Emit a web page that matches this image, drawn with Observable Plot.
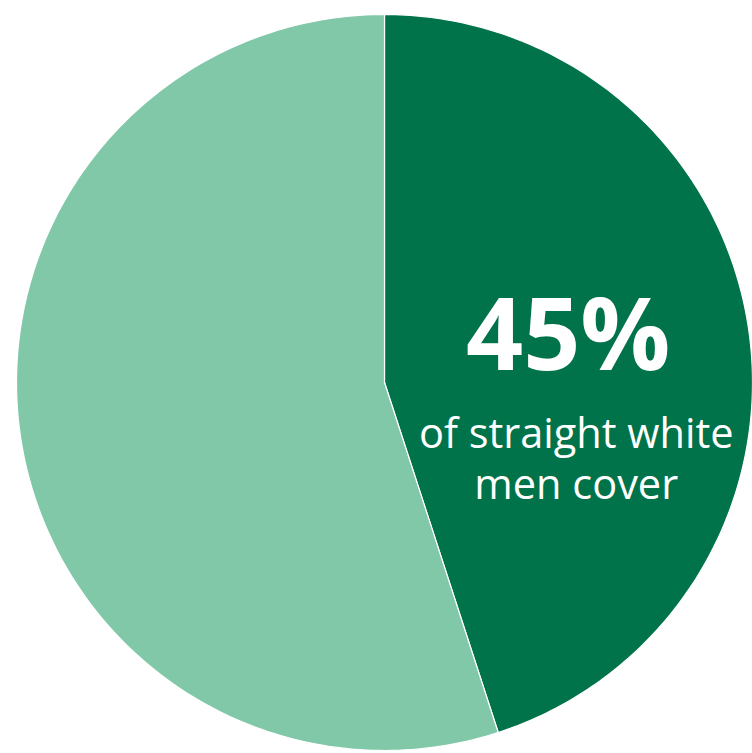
<!DOCTYPE html>
<html>
<head>
<meta charset="utf-8">
<script src="https://cdn.jsdelivr.net/npm/d3@7"></script>
<script src="https://cdn.jsdelivr.net/npm/@observablehq/plot@0.6"></script>
<style>
  html, body { margin: 0; padding: 0; background: #ffffff; }
  #chart svg { display: block; }
</style>
</head>
<body>
<div id="chart"></div>
<script>
// Data
const categories = ["Cover", "Do not cover"];
const values = [45, 55];
const colors = ["#00734A", "#80C8A8"];
const bigLabel = "45%";
const subLabel = "of straight white\nmen cover";

// Build slices (angles measured clockwise from 12 o'clock)
const pie = d3.pie().sort(null).value(d => d.value)(categories.map((c, i) => ({category: c, value: values[i]})));
const slicePoints = [];
pie.forEach(s => {
  const n = 200;
  slicePoints.push({category: s.data.category, x: 0, y: 0});
  for (let k = 0; k <= n; k++) {
    const a = s.startAngle + (s.endAngle - s.startAngle) * k / n;
    slicePoints.push({category: s.data.category, x: Math.sin(a), y: Math.cos(a)});
  }
  slicePoints.push({category: s.data.category, x: 0, y: 0});
});
const first = pie[0];
const mid = (first.startAngle + first.endAngle) / 2;
const labelPos = [{x: 0.5 * Math.sin(mid), y: 0.5 * Math.cos(mid)}];

const W = 752, H = 753, R = 368, cx = 384, cy = 382;
const chart = Plot.plot({
  width: W,
  height: H,
  margin: 0,
  x: {domain: [-cx / R, (W - cx) / R], range: [0, W], axis: null},
  y: {domain: [-(H - cy) / R, cy / R], range: [H, 0], axis: null},
  color: {domain: categories, range: colors},
  marks: [
    Plot.line(slicePoints, {x: "x", y: "y", z: "category", fill: "category", stroke: "white", strokeWidth: 1.2}),
    Plot.text(labelPos, {x: "x", y: "y", text: () => bigLabel, fill: "white", fontSize: 100, fontWeight: "bold", dy: -16, dx: 2, fontFamily: "Open Sans"}),
    Plot.text(labelPos, {x: "x", y: "y", text: () => subLabel, fill: "white", fontSize: 41.5, lineHeight: 1.23, lineAnchor: "top", dy: 58, dx: 10, fontFamily: "Open Sans"})
  ]
});
document.getElementById("chart").appendChild(chart);
</script>
</body>
</html>
